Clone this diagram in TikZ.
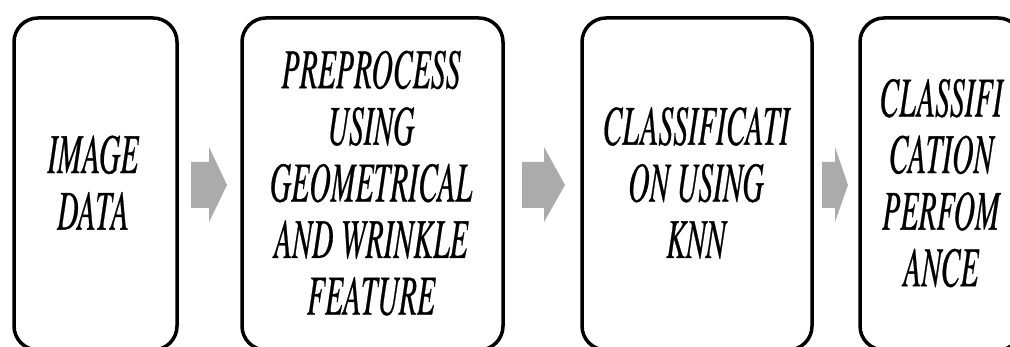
\documentclass[tikz,border=0pt]{standalone}
\usepackage{fontspec}
\newfontfamily\stagefont{texgyretermes-italic}[Extension=.otf, FakeBold=0.8]
\usepackage{graphicx}
\begin{document}
\begin{tikzpicture}[x=1pt,y=-1pt,
  stage/.style={draw=black, line width=3.5pt, rounded corners=24pt, inner sep=0pt, fill=white},
  stagetext/.style={inner sep=0pt, font=\stagefont\fontsize{56}{56.6}\selectfont},
  arrowgray/.style={fill=black!33}]
\useasboundingbox (0,0) rectangle (1010,347);
\fill[white] (0,0) rectangle (1010,347);
\newcommand\stagelabel[1]{\scalebox{0.53}[1]{\begin{tabular}{@{}c@{}}#1\end{tabular}}}
\newcommand\grayblock[3]{\fill[arrowgray] (#1,162) -- (#2,162) -- (#2,147) -- (#3,185) -- (#2,222) -- (#2,208) -- (#1,208) -- cycle;}
% boxes
\node[stage, minimum width=163pt, minimum height=332pt] (b1) at (95.5,184) {};
\node[stage, minimum width=261pt, minimum height=332pt] (b2) at (372.5,184) {};
\node[stage, minimum width=230pt, minimum height=332pt] (b3) at (697,184) {};
\node[stage, minimum width=162pt, minimum height=332pt] (b4) at (941,184) {};
% texts
\node[stagetext] (t1) at (93,190) {\stagelabel{IMAGE\\DATA}};
\node[stagetext] (t2) at (371,190) {\stagelabel{PREPROCESS\\USING\\GEOMETRICAL\\AND WRINKLE\\FEATURE}};
\node[stagetext] (t3) at (696,190) {\stagelabel{CLASSIFICATI\\ON USING\\KNN}};
\node[stagetext] (t4) at (941,190) {\stagelabel{CLASSIFI\\CATION\\PERFOM\\ANCE}};
% block arrows
\grayblock{191}{209}{227}
\grayblock{522}{544}{565}
\grayblock{822}{835}{848}
\end{tikzpicture}
\end{document}
